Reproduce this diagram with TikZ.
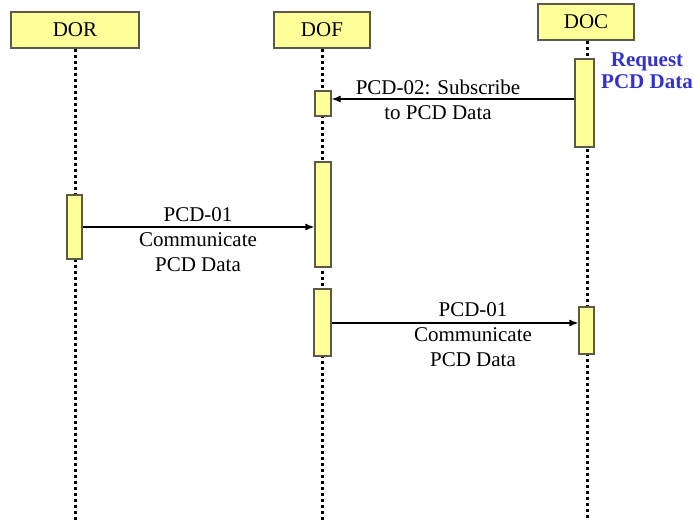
\documentclass[tikz,border=0pt]{standalone}
\usepackage{fontspec}
\setmainfont{Liberation Serif}
\usetikzlibrary{arrows.meta}
\definecolor{boxfill}{RGB}{255,255,153}
\definecolor{boxdraw}{RGB}{90,90,70}
\definecolor{reqblue}{RGB}{51,51,204}
\tikzset{
  actor/.style={draw=boxdraw, line width=1.3pt, fill=boxfill, minimum height=36pt, inner sep=0pt, font=\fontsize{21}{25}\selectfont},
  actbox/.style={draw=boxdraw, line width=1.2pt, fill=boxfill, inner sep=0pt},
  lifeline/.style={line width=3pt, dash pattern=on 3pt off 3pt},
  msg/.style={line width=1.2pt, -{Latex[length=9pt,width=7pt]}},
  lbl/.style={align=center, inner sep=0pt, font=\fontsize{21}{25}\selectfont}
}
\begin{document}
\begin{tikzpicture}[x=1pt,y=-1pt]
\useasboundingbox (0,0) rectangle (693,521);
% actors
\node[actor, minimum width=128pt] (dor) at (75,30) {DOR};
\node[actor, minimum width=96pt] (dof) at (322,30) {DOF};
\node[actor, minimum width=96pt] (doc) at (586,22) {DOC};
% lifeline ends
\coordinate (dorend) at (75,521);
\coordinate (dofend) at (322,521);
\coordinate (docend) at (587,521);
\draw[lifeline] (dor.south) -- (dorend);
\draw[lifeline] (dof.south) -- (dofend);
\draw[lifeline] (doc.south -| docend) -- (docend);
% activations
\node[actbox, minimum width=16pt, minimum height=25pt] (dof1) at (323,103.5) {};
\node[actbox, minimum width=19pt, minimum height=88pt] (doc1) at (584.5,103) {};
\node[actbox, minimum width=15pt, minimum height=64pt] (dor1) at (74.5,227) {};
\node[actbox, minimum width=16pt, minimum height=105pt] (dof2) at (323,214.5) {};
\node[actbox, minimum width=17pt, minimum height=67pt] (dof3) at (322.5,322.5) {};
\node[actbox, minimum width=15pt, minimum height=47pt] (doc2) at (586.5,330.5) {};
% messages
\draw[msg] (doc1.west |- 0,99) -- (dof1.east |- 0,99);
\draw[msg] (dor1.east |- 0,227) -- (dof2.west |- 0,227);
\draw[msg] (dof3.east |- 0,323) -- (doc2.west |- 0,323);
% labels
\node[lbl] (l1) at (438,99.5) {PCD-02: Subscribe\\to PCD Data};
\node[lbl] (l2) at (198,240) {PCD-01\\Communicate\\PCD Data};
\node[lbl] (l3) at (473,335) {PCD-01\\Communicate\\PCD Data};
\node[lbl, text=reqblue, font=\fontsize{21}{22}\bfseries\selectfont] (req) at (647,71) {Request\\PCD Data};
\end{tikzpicture}
\end{document}
